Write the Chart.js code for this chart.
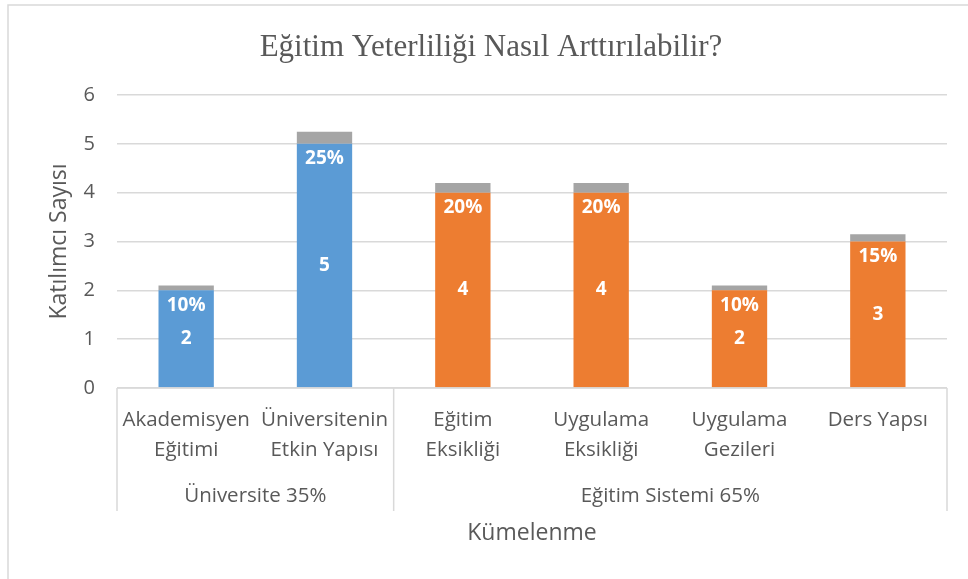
<!DOCTYPE html>
<html>
<head>
<meta charset="utf-8">
<title>Eğitim Yeterliliği Nasıl Arttırılabilir?</title>
<script src="https://cdn.jsdelivr.net/npm/chart.js@4.4.1/dist/chart.umd.min.js"></script>
<style>
  body { margin: 0; background: #fff; }
  .chart-box { position: relative; width: 968px; height: 579px; }
</style>
</head>
<body>
<div class="chart-box"><canvas class="js-chart" width="968" height="579"></canvas></div>
<script>
// kategoriler (iki satırlık etiketler) ve üst gruplar
const categories = [
  ['Akademisyen', 'Eğitimi'],
  ['Üniversitenin', 'Etkin Yapısı'],
  ['Eğitim', 'Eksikliği'],
  ['Uygulama', 'Eksikliği'],
  ['Uygulama', 'Gezileri'],
  ['Ders Yapsı'],
];
const groupLabels = ['Üniversite 35%', 'Eğitim Sistemi 65%'];
const groupSizes = [2, 4];

// katılımcı sayısı ve yüzdeler
const counts = [2, 5, 4, 4, 2, 3];
const percents = [10, 25, 20, 20, 10, 15];
const yTicks = [0, 1, 2, 3, 4, 5, 6];

const barColors = ['#5B9BD5', '#5B9BD5', '#ED7D31', '#ED7D31', '#ED7D31', '#ED7D31'];
const textColor = '#595959';
const lineColor = '#D9D9D9';
const font = '"Open Sans", "Noto Sans", sans-serif';

// gri üst parça: yüzde / 100
const percentBars = percents.map(p => p / 100);

const ctx = document.querySelector('.js-chart').getContext('2d');

const decorPlugin = {
  id: 'decor',
  beforeDraw(chart) {
    const c = chart.ctx;
    c.save();
    c.fillStyle = '#fff';
    c.fillRect(0, 0, chart.width, chart.height);
    // çerçeve
    c.strokeStyle = lineColor;
    c.lineWidth = 1.5;
    c.beginPath();
    c.moveTo(8, chart.height);
    c.lineTo(8, 5);
    c.lineTo(chart.width, 5);
    c.stroke();
    // başlık
    c.fillStyle = textColor;
    c.font = '31px "Liberation Serif", "Times New Roman", serif';
    c.textAlign = 'center';
    c.textBaseline = 'middle';
    c.fillText('Eğitim Yeterliliği Nasıl Arttırılabilir?', 491, 48);
    c.restore();
  },
  afterDraw(chart) {
    const c = chart.ctx;
    const x = chart.scales.x;
    const area = chart.chartArea;
    const half = (x.getPixelForValue(1) - x.getPixelForValue(0)) / 2;
    c.save();
    // x ekseni çizgisi ve grup ayraçları
    c.strokeStyle = lineColor;
    c.lineWidth = 1.5;
    c.beginPath();
    c.moveTo(area.left, area.bottom);
    c.lineTo(area.right, area.bottom);
    const bounds = [area.left];
    let idx = 0;
    groupSizes.forEach(n => {
      idx += n;
      bounds.push(x.getPixelForValue(idx - 1) + half);
    });
    bounds.forEach(bx => {
      c.moveTo(bx, area.bottom);
      c.lineTo(bx, area.bottom + 123);
    });
    c.stroke();

    // kategori etiketleri
    c.fillStyle = textColor;
    c.font = '20.5px ' + font;
    c.textAlign = 'center';
    c.textBaseline = 'middle';
    categories.forEach((lines, i) => {
      const cx = x.getPixelForValue(i);
      lines.forEach((t, j) => c.fillText(t, cx, area.bottom + 32 + j * 30));
    });
    // grup etiketleri
    groupLabels.forEach((t, g) => {
      c.fillText(t, (bounds[g] + bounds[g + 1]) / 2, area.bottom + 108);
    });
    // eksen başlığı
    c.font = '23px ' + font;
    c.fillText('Kümelenme', (area.left + area.right) / 2, area.bottom + 145);
    c.restore();
  },
  afterDatasetsDraw(chart) {
    const c = chart.ctx;
    const meta = chart.getDatasetMeta(0);
    c.save();
    c.fillStyle = '#fff';
    c.font = 'bold 19px ' + font;
    c.textAlign = 'center';
    c.textBaseline = 'middle';
    meta.data.forEach((bar, i) => {
      c.fillText(String(counts[i]), bar.x, (bar.y + bar.base) / 2);
      c.fillText(percents[i] + '%', bar.x, bar.y + 15);
    });
    c.restore();
  },
};

new Chart(ctx, {
  type: 'bar',
  data: {
    labels: categories,
    datasets: [
      {
        label: 'Katılımcı Sayısı',
        data: counts,
        backgroundColor: barColors,
      },
      {
        label: 'Yüzde',
        data: percentBars,
        backgroundColor: '#A5A5A5',
      },
    ],
  },
  options: {
    responsive: false,
    animation: false,
    layout: { padding: { top: 95, bottom: 191, left: 0, right: 21 } },
    datasets: { bar: { barPercentage: 0.4, categoryPercentage: 1 } },
    plugins: {
      legend: { display: false },
      tooltip: { enabled: false },
    },
    scales: {
      x: {
        stacked: true,
        display: false,
      },
      y: {
        stacked: true,
        min: 0,
        max: yTicks[yTicks.length - 1],
        afterFit(scale) { scale.width = 117; },
        afterBuildTicks(scale) { scale.ticks = yTicks.map(v => ({ value: v })); },
        border: { display: false },
        grid: { color: lineColor, lineWidth: 1.5, drawTicks: false },
        ticks: { color: textColor, padding: 22, font: { family: font, size: 20 } },
        title: {
          display: true,
          text: 'Katılımcı Sayısı',
          color: textColor,
          padding: { top: 46, bottom: 0 },
          font: { family: font, size: 23 },
        },
      },
    },
  },
  plugins: [decorPlugin],
});
</script>
</body>
</html>
